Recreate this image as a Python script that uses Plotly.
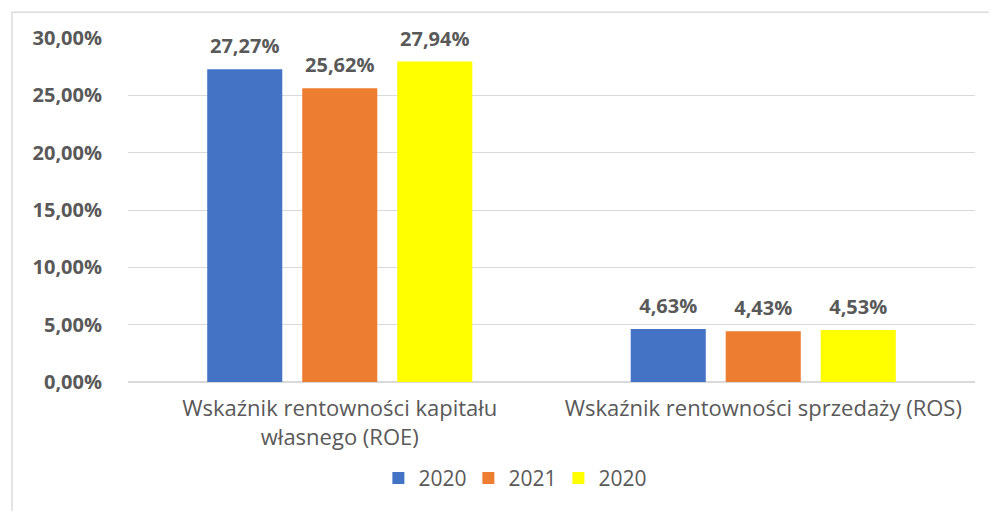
import plotly.graph_objects as go

categories = ["Wskaźnik rentowności kapitału<br>własnego (ROE)",
              "Wskaźnik rentowności sprzedaży (ROS)"]
series_names = ["2020", "2021", "2020"]
values_a = [0.2727, 0.0463]
values_b = [0.2562, 0.0443]
values_c = [0.2794, 0.0453]
colors = ["#4472C4", "#ED7D31", "#FFFF00"]

gray = "#595959"
fig = go.Figure()
for i, (name, vals, col) in enumerate(zip(series_names, [values_a, values_b, values_c], colors)):
    fig.add_trace(go.Bar(
        x=categories,
        y=vals,
        name=name,
        offsetgroup=str(i),
        marker=dict(color=col, line=dict(width=0)),
        hovertemplate="%{y:.2%}<extra>" + name + "</extra>",
    ))
    # value labels, grouped like the bars
    fig.add_trace(go.Scatter(
        x=categories,
        y=vals,
        offsetgroup=str(i),
        mode="markers+text",
        marker=dict(size=16, opacity=0),
        texttemplate="%{y:.2%}",
        textposition="top center",
        textfont=dict(family="Open Sans", size=20, color=gray, weight="bold"),
        cliponaxis=False,
        showlegend=False,
        hoverinfo="skip",
    ))

fig.update_layout(
    width=989,
    height=503,
    barmode="group",
    scattermode="group",
    bargap=0.327,
    bargroupgap=0.21,
    separators=", ",
    paper_bgcolor="white",
    plot_bgcolor="white",
    margin=dict(l=120, r=22, t=30, b=127),
    font=dict(family="Open Sans", color=gray),
    showlegend=True,
    legend=dict(
        orientation="h",
        x=0.455,
        xanchor="center",
        y=-0.28,
        yanchor="middle",
        font=dict(size=21, color=gray),
        traceorder="normal",
        itemwidth=30,
        entrywidth=45,
    ),
    xaxis=dict(
        showline=False,
        ticks="",
        tickfont=dict(size=22, color=gray),
        ticklabelstandoff=11,
    ),
    yaxis=dict(
        range=[0, 0.30],
        dtick=0.05,
        tickformat=".2%",
        showgrid=True,
        gridcolor="#D9D9D9",
        zeroline=True,
        zerolinecolor="#D9D9D9",
        tickfont=dict(size=20, color=gray, weight="bold"),
        ticklabelstandoff=25,
    ),
    # chart frame: only its top and left edges fall inside the picture
    shapes=[dict(
        type="rect", xref="paper", yref="paper",
        x0=-0.137, x1=1.2, y0=-0.6, y1=1.075,
        line=dict(color="#DCDCDC", width=1.5),
        fillcolor="rgba(0,0,0,0)",
        layer="below",
    )],
)

fig.write_html("out.html")
